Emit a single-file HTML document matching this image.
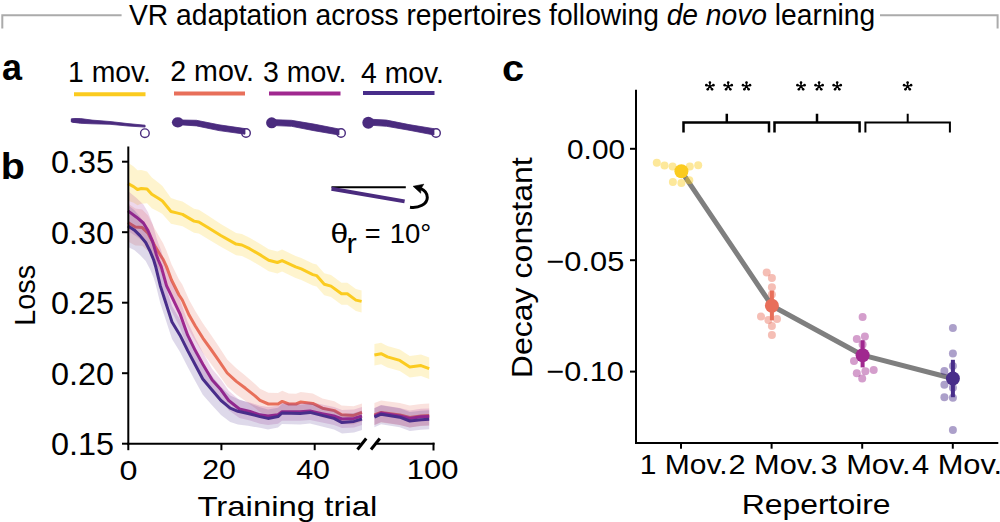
<!DOCTYPE html>
<html><head><meta charset="utf-8"><style>html,body{margin:0;padding:0;background:#fff;overflow:hidden}svg{display:block}</style></head>
<body><svg width="1000" height="522" viewBox="0 0 1000 522">
<rect width="1000" height="522" fill="#fff"/>
<polyline points="2.3,28.5 2.3,15.2 121.6,15.2" fill="none" stroke="#ABABAB" stroke-width="2"/>
<polyline points="880,15.2 997.6,15.2 997.6,28.5" fill="none" stroke="#ABABAB" stroke-width="2"/>
<text x="129" y="24.8" font-size="30" textLength="746.2" lengthAdjust="spacingAndGlyphs" style="font-family:'Liberation Sans',sans-serif;">VR adaptation across repertoires following <tspan font-style="italic">de novo</tspan> learning</text>
<text x="2" y="80" font-size="37.5" textLength="20.0" lengthAdjust="spacingAndGlyphs" font-weight="bold" style="font-family:'Liberation Sans',sans-serif;">a</text>
<text x="0.8" y="179" font-size="37.5" textLength="24.1" lengthAdjust="spacingAndGlyphs" font-weight="bold" style="font-family:'Liberation Sans',sans-serif;">b</text>
<text x="501.9" y="80.6" font-size="37.5" textLength="22.1" lengthAdjust="spacingAndGlyphs" font-weight="bold" style="font-family:'Liberation Sans',sans-serif;">c</text>
<text x="68" y="82" font-size="29.5" textLength="82.96" lengthAdjust="spacingAndGlyphs" style="font-family:'Liberation Sans',sans-serif;">1 mov.</text>
<line x1="74" y1="94.3" x2="145.5" y2="94.3" stroke="#FBCB1F" stroke-width="4"/>
<text x="170.2" y="81.2" font-size="29.5" textLength="83.76" lengthAdjust="spacingAndGlyphs" style="font-family:'Liberation Sans',sans-serif;">2 mov.</text>
<line x1="174" y1="93.5" x2="245" y2="93.5" stroke="#E86F5A" stroke-width="4"/>
<text x="263" y="81.5" font-size="29.5" textLength="83.36" lengthAdjust="spacingAndGlyphs" style="font-family:'Liberation Sans',sans-serif;">3 mov.</text>
<line x1="269" y1="93.5" x2="340.5" y2="93.5" stroke="#A0288F" stroke-width="4"/>
<text x="361" y="83" font-size="29.5" textLength="82.96" lengthAdjust="spacingAndGlyphs" style="font-family:'Liberation Sans',sans-serif;">4 mov.</text>
<line x1="363" y1="93" x2="434.5" y2="93" stroke="#482D8A" stroke-width="4"/>
<polygon points="71.3,118.8 80.3,118.5 92.0,120.1 110.0,121.5 128.0,123.6 145.1,125.2 145.1,127.1 128.0,126.0 110.0,124.3 92.0,123.8 80.3,123.3 71.3,122.0" fill="#4A2B7E" stroke="#4A2B7E" stroke-width="0.8" stroke-linejoin="round"/>
<ellipse cx="75.5" cy="120.5" rx="4.5" ry="2.3" fill="#4A2B7E"/>
<circle cx="144.9" cy="133.2" r="4.3" fill="none" stroke="#4A2B7E" stroke-width="1.4"/>
<polygon points="182.0,120.0 196.5,120.3 219.0,124.8 245.0,128.6 245.0,134.2 219.0,130.6 196.5,125.9 182.0,124.9" fill="#4A2B7E" stroke="#4A2B7E" stroke-width="0.8" stroke-linejoin="round"/>
<ellipse cx="177.8" cy="122.3" rx="5.9" ry="5.1" fill="#4A2B7E"/>
<circle cx="246" cy="133" r="4.3" fill="none" stroke="#4A2B7E" stroke-width="1.4"/>
<polygon points="275.0,119.7 291.5,120.3 314.0,124.1 339.0,129.0 339.0,135.0 314.0,130.7 291.5,126.3 275.0,125.6" fill="#4A2B7E" stroke="#4A2B7E" stroke-width="0.8" stroke-linejoin="round"/>
<ellipse cx="271.7" cy="122.8" rx="5.6" ry="5.5" fill="#4A2B7E"/>
<circle cx="341" cy="133" r="4.3" fill="none" stroke="#4A2B7E" stroke-width="1.4"/>
<polygon points="372.0,119.3 386.5,120.1 409.0,124.6 434.0,128.7 434.0,135.0 409.0,130.2 386.5,126.3 372.0,125.3" fill="#4A2B7E" stroke="#4A2B7E" stroke-width="0.8" stroke-linejoin="round"/>
<ellipse cx="368.3" cy="122.8" rx="6.0" ry="6.0" fill="#4A2B7E"/>
<circle cx="436" cy="133" r="4.3" fill="none" stroke="#4A2B7E" stroke-width="1.4"/>
<g>
<polygon points="128.0,162.7 133.6,166.6 137.5,170.2 141.3,169.9 147.0,171.4 151.8,177.6 159.5,183.6 162.4,186.0 171.0,197.9 176.7,200.0 182.5,201.6 194.0,208.7 198.8,209.7 208.3,215.8 220.8,223.9 236.1,233.0 241.9,234.0 249.6,237.7 261.1,244.4 268.7,249.2 277.4,251.5 282.1,249.6 295.6,255.9 301.3,257.9 312.8,263.6 316.6,264.6 324.3,273.2 331.0,275.1 341.5,282.8 347.3,282.8 355.9,289.1 361.6,290.4 361.6,312.4 355.9,311.1 347.3,304.8 341.5,304.8 331.0,297.1 324.3,295.2 316.6,286.6 312.8,285.6 301.3,279.9 295.6,277.9 282.1,271.6 277.4,273.5 268.7,271.2 261.1,266.4 249.6,259.7 241.9,256.0 236.1,255.2 220.8,246.8 208.3,239.3 198.8,233.6 194.0,232.8 182.5,226.3 176.7,224.9 171.0,223.8 162.4,214.0 159.5,212.3 151.8,208.2 147.0,203.3 141.3,203.7 137.5,205.2 133.6,202.8 128.0,200.7" fill="#FBCB1F" fill-opacity="0.22" stroke="none"/>
<polyline points="128.0,183.7 133.6,186.6 137.5,189.5 141.3,188.5 147.0,188.9 151.8,194.3 159.5,199.1 162.4,201.0 171.0,211.5 176.7,212.9 182.5,214.4 194.0,221.1 198.8,222.0 208.3,227.8 220.8,235.5 236.1,244.1 241.9,245.0 249.6,248.7 261.1,255.4 268.7,260.2 277.4,262.5 282.1,260.6 295.6,266.9 301.3,268.9 312.8,274.6 316.6,275.6 324.3,284.2 331.0,286.1 341.5,293.8 347.3,293.8 355.9,300.1 361.6,301.4" fill="none" stroke="#FBCB1F" stroke-width="3" stroke-linejoin="round" />
<polygon points="374.4,344.0 381.1,342.7 387.4,345.9 399.8,349.4 409.8,355.9 421.0,354.6 429.2,357.6 429.2,379.1 421.0,376.1 409.8,377.4 399.8,370.9 387.4,367.4 381.1,364.2 374.4,365.5" fill="#FBCB1F" fill-opacity="0.22" stroke="none"/>
<polyline points="374.4,355.0 381.1,353.7 387.4,356.9 399.8,360.4 409.8,366.9 421.0,365.6 429.2,368.6" fill="none" stroke="#FBCB1F" stroke-width="3" stroke-linejoin="round" />
<polygon points="128.0,203.4 135.3,208.4 142.2,209.4 148.0,215.6 154.9,229.0 160.3,238.5 163.0,243.0 166.4,250.4 171.5,264.2 179.0,279.4 182.3,284.5 189.2,300.0 195.3,310.9 203.0,323.4 210.7,334.5 218.3,345.7 227.2,359.4 236.3,368.2 245.5,375.7 255.0,383.9 260.0,388.8 268.4,392.8 278.0,393.1 282.2,390.7 288.8,393.6 296.0,393.8 300.8,392.0 312.8,393.6 322.4,398.6 334.4,401.2 341.6,405.5 353.6,406.3 362.0,403.4 362.0,421.4 353.6,424.5 341.6,424.1 334.4,420.0 322.4,417.8 312.8,413.2 300.8,412.0 296.0,414.2 288.8,414.4 282.2,412.1 278.0,414.9 268.4,415.2 260.0,412.0 255.0,407.9 245.5,400.9 236.3,394.6 227.2,386.6 218.3,373.9 210.7,363.5 203.0,353.2 195.3,341.1 189.2,330.6 182.3,315.5 179.0,310.6 171.5,295.8 166.4,282.4 163.0,275.4 160.3,271.5 154.9,263.0 148.0,251.0 142.2,245.8 135.3,245.6 128.0,241.4" fill="#E86F5A" fill-opacity="0.2" stroke="none"/>
<polyline points="128.0,222.4 135.3,227.0 142.2,227.6 148.0,233.3 154.9,246.0 160.3,255.0 163.0,259.2 166.4,266.4 171.5,280.0 179.0,295.0 182.3,300.0 189.2,315.3 195.3,326.0 203.0,338.3 210.7,349.0 218.3,359.8 227.2,373.0 236.3,381.4 245.5,388.3 255.0,395.9 260.0,400.4 268.4,404.0 278.0,404.0 282.2,401.4 288.8,404.0 296.0,404.0 300.8,402.0 312.8,403.4 322.4,408.2 334.4,410.6 341.6,414.8 353.6,415.4 362.0,412.4" fill="none" stroke="#E86F5A" stroke-width="3" stroke-linejoin="round" />
<polygon points="374.4,403.0 381.1,400.5 399.8,403.0 409.8,405.5 421.0,404.0 429.2,403.5 429.2,425.5 421.0,426.0 409.8,427.5 399.8,425.0 381.1,422.5 374.4,425.0" fill="#E86F5A" fill-opacity="0.2" stroke="none"/>
<polyline points="374.4,415.0 381.1,412.5 399.8,415.0 409.8,417.5 421.0,416.0 429.2,415.5" fill="none" stroke="#E86F5A" stroke-width="3" stroke-linejoin="round" />
<polygon points="128.0,190.9 136.5,198.0 143.4,204.4 148.0,212.3 152.6,223.8 156.5,238.0 158.3,243.2 161.2,250.4 166.5,270.2 180.0,299.8 187.7,322.0 195.3,338.1 203.0,352.7 212.2,369.1 221.0,379.5 228.7,390.7 239.4,400.0 250.0,402.5 260.0,405.8 268.0,407.0 278.0,405.8 282.0,402.8 300.0,402.8 310.0,402.0 322.0,404.6 334.0,407.0 342.0,410.0 354.0,409.4 362.0,407.0 362.0,425.0 354.0,427.4 342.0,428.0 334.0,425.0 322.0,422.6 310.0,420.0 300.0,420.8 282.0,420.8 278.0,423.8 268.0,425.0 260.0,423.8 250.0,420.5 239.4,418.0 228.7,410.3 221.0,400.1 212.2,390.9 203.0,376.1 195.3,363.1 187.7,348.4 180.0,327.8 166.5,301.2 161.2,283.0 158.3,276.8 156.5,272.0 152.6,259.0 148.0,248.7 143.4,241.6 136.5,236.4 128.0,230.9" fill="#A0288F" fill-opacity="0.18" stroke="none"/>
<polyline points="128.0,210.9 136.5,217.2 143.4,223.0 148.0,230.5 152.6,241.4 156.5,255.0 158.3,260.0 161.2,266.7 166.5,285.7 180.0,313.8 187.7,335.2 195.3,350.6 203.0,364.4 212.2,380.0 221.0,389.8 228.7,400.5 239.4,409.0 250.0,411.5 260.0,414.8 268.0,416.0 278.0,414.8 282.0,411.8 300.0,411.8 310.0,411.0 322.0,413.6 334.0,416.0 342.0,419.0 354.0,418.4 362.0,416.0" fill="none" stroke="#A0288F" stroke-width="3" stroke-linejoin="round" />
<polygon points="374.4,408.0 381.1,405.0 399.8,408.0 409.8,410.4 421.0,408.7 429.2,408.4 429.2,425.4 421.0,425.7 409.8,427.4 399.8,425.0 381.1,422.0 374.4,425.0" fill="#A0288F" fill-opacity="0.18" stroke="none"/>
<polyline points="374.4,416.0 381.1,413.0 399.8,416.0 409.8,418.4 421.0,416.7 429.2,416.4" fill="none" stroke="#A0288F" stroke-width="3" stroke-linejoin="round" />
<polygon points="128.0,204.9 134.2,210.0 140.0,216.8 145.7,224.7 150.3,234.7 153.7,243.1 155.7,249.9 160.3,269.1 172.0,305.9 180.0,319.4 187.7,335.1 195.2,349.6 202.8,364.2 211.8,375.7 221.0,387.1 230.2,395.5 237.9,399.1 248.0,402.6 260.0,407.3 268.0,409.4 278.0,407.7 282.0,404.1 300.0,404.8 310.0,403.6 322.0,406.7 334.0,409.8 342.0,414.0 354.0,412.9 362.0,410.5 362.0,430.0 354.0,432.4 342.0,433.6 334.0,429.4 322.0,426.4 310.0,423.4 300.0,424.6 282.0,424.0 278.0,427.6 268.0,429.4 260.0,427.8 248.0,425.8 237.9,424.5 230.2,421.9 221.0,414.9 211.8,404.9 202.8,394.8 195.2,381.0 187.7,367.1 180.0,352.0 172.0,339.1 160.3,303.3 155.7,284.5 153.7,277.9 150.3,269.7 145.7,261.1 140.0,255.0 134.2,250.1 128.0,246.9" fill="#482D8A" fill-opacity="0.18" stroke="none"/>
<polyline points="128.0,225.9 134.2,229.9 140.0,235.6 145.7,242.5 150.3,251.7 153.7,260.0 155.7,266.7 160.3,285.7 172.0,322.0 180.0,335.2 187.7,350.6 195.2,364.8 202.8,379.0 211.8,389.8 221.0,400.5 230.2,408.2 237.9,411.3 248.0,413.5 260.0,416.6 268.0,418.4 278.0,416.6 282.0,413.0 300.0,413.6 310.0,412.4 322.0,415.4 334.0,418.4 342.0,422.6 354.0,421.4 362.0,419.0" fill="none" stroke="#482D8A" stroke-width="3" stroke-linejoin="round" />
<polygon points="374.4,408.2 381.1,405.2 399.8,408.2 409.8,412.0 421.0,410.7 429.2,410.2 429.2,429.2 421.0,429.7 409.8,431.0 399.8,427.2 381.1,424.2 374.4,427.2" fill="#482D8A" fill-opacity="0.18" stroke="none"/>
<polyline points="374.4,417.2 381.1,414.2 399.8,417.2 409.8,421.0 421.0,419.7 429.2,419.2" fill="none" stroke="#482D8A" stroke-width="3" stroke-linejoin="round" />
</g>
<line x1="128.3" y1="146.4" x2="128.3" y2="444.7" stroke="#000" stroke-width="2"/>
<line x1="127.3" y1="443.7" x2="360.5" y2="443.7" stroke="#000" stroke-width="2"/>
<line x1="376.5" y1="443.7" x2="434.5" y2="443.7" stroke="#000" stroke-width="2"/>
<line x1="433.5" y1="442.7" x2="433.5" y2="450.5" stroke="#000" stroke-width="2"/>
<line x1="357.5" y1="449.5" x2="366.2" y2="438.5" stroke="#000" stroke-width="3"/>
<line x1="371" y1="449.5" x2="379.8" y2="438.5" stroke="#000" stroke-width="3"/>
<line x1="122" y1="161.7" x2="128.3" y2="161.7" stroke="#000" stroke-width="2"/>
<line x1="122" y1="232.2" x2="128.3" y2="232.2" stroke="#000" stroke-width="2"/>
<line x1="122" y1="302.7" x2="128.3" y2="302.7" stroke="#000" stroke-width="2"/>
<line x1="122" y1="373.2" x2="128.3" y2="373.2" stroke="#000" stroke-width="2"/>
<line x1="122" y1="443.7" x2="128.3" y2="443.7" stroke="#000" stroke-width="2"/>
<line x1="128.3" y1="443.7" x2="128.3" y2="450.2" stroke="#000" stroke-width="2"/>
<line x1="221.4" y1="443.7" x2="221.4" y2="450.2" stroke="#000" stroke-width="2"/>
<line x1="314.7" y1="443.7" x2="314.7" y2="450.2" stroke="#000" stroke-width="2"/>
<text x="51" y="173.2" font-size="32" textLength="63.06" lengthAdjust="spacingAndGlyphs" style="font-family:'Liberation Sans',sans-serif;">0.35</text>
<text x="51" y="243.7" font-size="32" textLength="63.06" lengthAdjust="spacingAndGlyphs" style="font-family:'Liberation Sans',sans-serif;">0.30</text>
<text x="51" y="314.2" font-size="32" textLength="63.06" lengthAdjust="spacingAndGlyphs" style="font-family:'Liberation Sans',sans-serif;">0.25</text>
<text x="51" y="384.7" font-size="32" textLength="63.06" lengthAdjust="spacingAndGlyphs" style="font-family:'Liberation Sans',sans-serif;">0.20</text>
<text x="51" y="455.2" font-size="32" textLength="63.06" lengthAdjust="spacingAndGlyphs" style="font-family:'Liberation Sans',sans-serif;">0.15</text>
<text x="119.5" y="479.9" font-size="28.5" textLength="17.98" lengthAdjust="spacingAndGlyphs" style="font-family:'Liberation Sans',sans-serif;">0</text>
<text x="202.2" y="479.2" font-size="28.5" textLength="33.68" lengthAdjust="spacingAndGlyphs" style="font-family:'Liberation Sans',sans-serif;">20</text>
<text x="296.2" y="479.2" font-size="28.5" textLength="33.78" lengthAdjust="spacingAndGlyphs" style="font-family:'Liberation Sans',sans-serif;">40</text>
<text x="406.8" y="479.3" font-size="28.5" textLength="51.68" lengthAdjust="spacingAndGlyphs" style="font-family:'Liberation Sans',sans-serif;">100</text>
<text x="197.4" y="515.6" font-size="28.5" textLength="179.98" lengthAdjust="spacingAndGlyphs" style="font-family:'Liberation Sans',sans-serif;">Training trial</text>
<text transform="translate(34.5,323.8) rotate(-90)" x="-2" y="0" font-size="30" textLength="60.9" lengthAdjust="spacingAndGlyphs" style="font-family:'Liberation Sans',sans-serif">Loss</text>
<line x1="331.5" y1="187.2" x2="405.8" y2="187.2" stroke="#000" stroke-width="2"/>
<line x1="331.5" y1="188.7" x2="404.6" y2="201.4" stroke="#4A2B7E" stroke-width="4"/>
<path d="M410,207.3 C419,208.5 427.3,204 427.3,197.5 C427.3,193 424.5,190 420.5,188.3" fill="none" stroke="#000" stroke-width="3"/>
<path d="M413.1,186.3 L423.8,184.2 L420.8,188.8 L420.7,193.2 Z" fill="#000" stroke="#000" stroke-width="0.6" stroke-linejoin="round"/>
<text x="330.5" y="243" font-size="28.5" textLength="17.68" lengthAdjust="spacingAndGlyphs" style="font-family:'Liberation Sans',sans-serif;">θ</text>
<text x="346.6" y="253.3" font-size="28.5" textLength="10.28" lengthAdjust="spacingAndGlyphs" style="font-family:'Liberation Sans',sans-serif;">r</text>
<text x="364.8" y="243.3" font-size="28.5" textLength="15.88" lengthAdjust="spacingAndGlyphs" style="font-family:'Liberation Sans',sans-serif;">=</text>
<text x="389.7" y="243" font-size="28.5" textLength="41.58" lengthAdjust="spacingAndGlyphs" style="font-family:'Liberation Sans',sans-serif;">10°</text>
<line x1="636" y1="89.7" x2="636" y2="444" stroke="#000" stroke-width="2"/>
<line x1="635" y1="443" x2="998.3" y2="443" stroke="#000" stroke-width="2"/>
<line x1="630" y1="148.8" x2="636" y2="148.8" stroke="#000" stroke-width="2"/>
<line x1="630" y1="260.2" x2="636" y2="260.2" stroke="#000" stroke-width="2"/>
<line x1="630" y1="371.6" x2="636" y2="371.6" stroke="#000" stroke-width="2"/>
<line x1="681" y1="443" x2="681" y2="448.7" stroke="#000" stroke-width="2"/>
<line x1="771.6" y1="443" x2="771.6" y2="448.7" stroke="#000" stroke-width="2"/>
<line x1="862.2" y1="443" x2="862.2" y2="448.7" stroke="#000" stroke-width="2"/>
<line x1="952.8" y1="443" x2="952.8" y2="448.7" stroke="#000" stroke-width="2"/>
<text x="567" y="159.2" font-size="28.5" textLength="58.08" lengthAdjust="spacingAndGlyphs" style="font-family:'Liberation Sans',sans-serif;">0.00</text>
<text x="546.4" y="270.6" font-size="28.5" textLength="77.88" lengthAdjust="spacingAndGlyphs" style="font-family:'Liberation Sans',sans-serif;">−0.05</text>
<text x="546.4" y="381.4" font-size="28.5" textLength="77.48" lengthAdjust="spacingAndGlyphs" style="font-family:'Liberation Sans',sans-serif;">−0.10</text>
<text x="639.8" y="474.3" font-size="27.5" textLength="87.8" lengthAdjust="spacingAndGlyphs" style="font-family:'Liberation Sans',sans-serif;">1 Mov.</text>
<text x="728.4" y="474.3" font-size="27.5" textLength="90.0" lengthAdjust="spacingAndGlyphs" style="font-family:'Liberation Sans',sans-serif;">2 Mov.</text>
<text x="820.5" y="474.3" font-size="27.5" textLength="90.2" lengthAdjust="spacingAndGlyphs" style="font-family:'Liberation Sans',sans-serif;">3 Mov.</text>
<text x="912" y="474.3" font-size="27.5" textLength="90.2" lengthAdjust="spacingAndGlyphs" style="font-family:'Liberation Sans',sans-serif;">4 Mov.</text>
<text x="741.8" y="513.9" font-size="28.5" textLength="148.78" lengthAdjust="spacingAndGlyphs" style="font-family:'Liberation Sans',sans-serif;">Repertoire</text>
<text transform="translate(531.8,375.2) rotate(-90)" x="-3" y="0" font-size="30" textLength="220.9" lengthAdjust="spacingAndGlyphs" style="font-family:'Liberation Sans',sans-serif">Decay constant</text>
<path d="M683.5,132.4 L683.5,122.4 L769,122.4 L769,132.4 M726.8,122.4 L726.8,113.7" fill="none" stroke="#000" stroke-width="2.5"/>
<path d="M774.5,132.4 L774.5,122.4 L859.6,122.4 L859.6,132.4 M817,122.4 L817,113.7" fill="none" stroke="#000" stroke-width="2.5"/>
<path d="M865.4,132.4 L865.4,122.4 L949.9,122.4 L949.9,132.4 M907.7,122.4 L907.7,113.7" fill="none" stroke="#000" stroke-width="2"/>
<circle cx="709.90" cy="82.60" r="1.3" fill="#000"/>
<circle cx="713.42" cy="85.16" r="1.3" fill="#000"/>
<circle cx="712.07" cy="89.29" r="1.3" fill="#000"/>
<circle cx="707.73" cy="89.29" r="1.3" fill="#000"/>
<circle cx="706.38" cy="85.16" r="1.3" fill="#000"/>
<path d="M709.90,86.30 L709.90,82.40 M709.90,86.30 L713.61,85.09 M709.90,86.30 L712.19,89.46 M709.90,86.30 L707.61,89.46 M709.90,86.30 L706.19,85.09 " stroke="#000" stroke-width="1.5" stroke-linecap="round" fill="none"/>
<circle cx="728.20" cy="82.60" r="1.3" fill="#000"/>
<circle cx="731.72" cy="85.16" r="1.3" fill="#000"/>
<circle cx="730.37" cy="89.29" r="1.3" fill="#000"/>
<circle cx="726.03" cy="89.29" r="1.3" fill="#000"/>
<circle cx="724.68" cy="85.16" r="1.3" fill="#000"/>
<path d="M728.20,86.30 L728.20,82.40 M728.20,86.30 L731.91,85.09 M728.20,86.30 L730.49,89.46 M728.20,86.30 L725.91,89.46 M728.20,86.30 L724.49,85.09 " stroke="#000" stroke-width="1.5" stroke-linecap="round" fill="none"/>
<circle cx="746.50" cy="82.60" r="1.3" fill="#000"/>
<circle cx="750.02" cy="85.16" r="1.3" fill="#000"/>
<circle cx="748.67" cy="89.29" r="1.3" fill="#000"/>
<circle cx="744.33" cy="89.29" r="1.3" fill="#000"/>
<circle cx="742.98" cy="85.16" r="1.3" fill="#000"/>
<path d="M746.50,86.30 L746.50,82.40 M746.50,86.30 L750.21,85.09 M746.50,86.30 L748.79,89.46 M746.50,86.30 L744.21,89.46 M746.50,86.30 L742.79,85.09 " stroke="#000" stroke-width="1.5" stroke-linecap="round" fill="none"/>
<circle cx="801.00" cy="82.60" r="1.3" fill="#000"/>
<circle cx="804.52" cy="85.16" r="1.3" fill="#000"/>
<circle cx="803.17" cy="89.29" r="1.3" fill="#000"/>
<circle cx="798.83" cy="89.29" r="1.3" fill="#000"/>
<circle cx="797.48" cy="85.16" r="1.3" fill="#000"/>
<path d="M801.00,86.30 L801.00,82.40 M801.00,86.30 L804.71,85.09 M801.00,86.30 L803.29,89.46 M801.00,86.30 L798.71,89.46 M801.00,86.30 L797.29,85.09 " stroke="#000" stroke-width="1.5" stroke-linecap="round" fill="none"/>
<circle cx="819.10" cy="82.60" r="1.3" fill="#000"/>
<circle cx="822.62" cy="85.16" r="1.3" fill="#000"/>
<circle cx="821.27" cy="89.29" r="1.3" fill="#000"/>
<circle cx="816.93" cy="89.29" r="1.3" fill="#000"/>
<circle cx="815.58" cy="85.16" r="1.3" fill="#000"/>
<path d="M819.10,86.30 L819.10,82.40 M819.10,86.30 L822.81,85.09 M819.10,86.30 L821.39,89.46 M819.10,86.30 L816.81,89.46 M819.10,86.30 L815.39,85.09 " stroke="#000" stroke-width="1.5" stroke-linecap="round" fill="none"/>
<circle cx="837.20" cy="82.60" r="1.3" fill="#000"/>
<circle cx="840.72" cy="85.16" r="1.3" fill="#000"/>
<circle cx="839.37" cy="89.29" r="1.3" fill="#000"/>
<circle cx="835.03" cy="89.29" r="1.3" fill="#000"/>
<circle cx="833.68" cy="85.16" r="1.3" fill="#000"/>
<path d="M837.20,86.30 L837.20,82.40 M837.20,86.30 L840.91,85.09 M837.20,86.30 L839.49,89.46 M837.20,86.30 L834.91,89.46 M837.20,86.30 L833.49,85.09 " stroke="#000" stroke-width="1.5" stroke-linecap="round" fill="none"/>
<circle cx="907.60" cy="82.60" r="1.3" fill="#000"/>
<circle cx="911.12" cy="85.16" r="1.3" fill="#000"/>
<circle cx="909.77" cy="89.29" r="1.3" fill="#000"/>
<circle cx="905.43" cy="89.29" r="1.3" fill="#000"/>
<circle cx="904.08" cy="85.16" r="1.3" fill="#000"/>
<path d="M907.60,86.30 L907.60,82.40 M907.60,86.30 L911.31,85.09 M907.60,86.30 L909.89,89.46 M907.60,86.30 L905.31,89.46 M907.60,86.30 L903.89,85.09 " stroke="#000" stroke-width="1.5" stroke-linecap="round" fill="none"/>
<polyline points="681.4,171.3 771.9,305.7 862.6,355.2 952.9,378.5" fill="none" stroke="#7F7F7F" stroke-width="5" stroke-linejoin="round" />
<circle cx="656.8" cy="162.7" r="4" fill="#FBCB1F" fill-opacity="0.45"/>
<circle cx="664.5" cy="165.5" r="4" fill="#FBCB1F" fill-opacity="0.45"/>
<circle cx="672.6" cy="166.6" r="4" fill="#FBCB1F" fill-opacity="0.45"/>
<circle cx="689.8" cy="166.6" r="4" fill="#FBCB1F" fill-opacity="0.45"/>
<circle cx="698.2" cy="165.2" r="4" fill="#FBCB1F" fill-opacity="0.45"/>
<circle cx="672.9" cy="181.9" r="4" fill="#FBCB1F" fill-opacity="0.45"/>
<circle cx="681.4" cy="182.9" r="4" fill="#FBCB1F" fill-opacity="0.45"/>
<circle cx="689.3" cy="180.3" r="4" fill="#FBCB1F" fill-opacity="0.45"/>
<circle cx="766.7" cy="272.4" r="4" fill="#E86F5A" fill-opacity="0.45"/>
<circle cx="771.9" cy="278.1" r="4" fill="#E86F5A" fill-opacity="0.45"/>
<circle cx="771.9" cy="287.2" r="4" fill="#E86F5A" fill-opacity="0.45"/>
<circle cx="771.9" cy="294.5" r="4" fill="#E86F5A" fill-opacity="0.45"/>
<circle cx="761" cy="316.6" r="4" fill="#E86F5A" fill-opacity="0.45"/>
<circle cx="768.4" cy="320" r="4" fill="#E86F5A" fill-opacity="0.45"/>
<circle cx="777" cy="319" r="4" fill="#E86F5A" fill-opacity="0.45"/>
<circle cx="771.9" cy="325.9" r="4" fill="#E86F5A" fill-opacity="0.45"/>
<circle cx="771.9" cy="335" r="4" fill="#E86F5A" fill-opacity="0.45"/>
<circle cx="862.6" cy="316.9" r="4" fill="#A0288F" fill-opacity="0.45"/>
<circle cx="856.8" cy="338.9" r="4" fill="#A0288F" fill-opacity="0.45"/>
<circle cx="864.9" cy="336.4" r="4" fill="#A0288F" fill-opacity="0.45"/>
<circle cx="862.6" cy="344.4" r="4" fill="#A0288F" fill-opacity="0.45"/>
<circle cx="854" cy="361" r="4" fill="#A0288F" fill-opacity="0.45"/>
<circle cx="856.8" cy="373.2" r="4" fill="#A0288F" fill-opacity="0.45"/>
<circle cx="865.4" cy="371.3" r="4" fill="#A0288F" fill-opacity="0.45"/>
<circle cx="873.7" cy="369.9" r="4" fill="#A0288F" fill-opacity="0.45"/>
<circle cx="862.2" cy="378.5" r="4" fill="#A0288F" fill-opacity="0.45"/>
<circle cx="952.9" cy="327.9" r="4" fill="#482D8A" fill-opacity="0.45"/>
<circle cx="952.9" cy="353.6" r="4" fill="#482D8A" fill-opacity="0.45"/>
<circle cx="952.9" cy="366" r="4" fill="#482D8A" fill-opacity="0.45"/>
<circle cx="944.4" cy="371" r="4" fill="#482D8A" fill-opacity="0.45"/>
<circle cx="944.4" cy="384.7" r="4" fill="#482D8A" fill-opacity="0.45"/>
<circle cx="952.9" cy="387.7" r="4" fill="#482D8A" fill-opacity="0.45"/>
<circle cx="944.4" cy="397.2" r="4" fill="#482D8A" fill-opacity="0.45"/>
<circle cx="952.9" cy="397.7" r="4" fill="#482D8A" fill-opacity="0.45"/>
<circle cx="952.9" cy="430" r="4" fill="#482D8A" fill-opacity="0.45"/>
<circle cx="681.4" cy="171.3" r="7" fill="#FBCB1F"/>
<line x1="771.9" y1="290.7" x2="771.9" y2="320.3" stroke="#E86F5A" stroke-width="4"/>
<circle cx="771.9" cy="305.7" r="7" fill="#E86F5A"/>
<line x1="862.6" y1="340.2" x2="862.6" y2="367.4" stroke="#A0288F" stroke-width="4"/>
<circle cx="862.6" cy="355.2" r="7" fill="#A0288F"/>
<line x1="952.9" y1="359.8" x2="952.9" y2="397.2" stroke="#482D8A" stroke-width="4"/>
<circle cx="952.9" cy="378.5" r="7" fill="#482D8A"/>
</svg></body></html>
